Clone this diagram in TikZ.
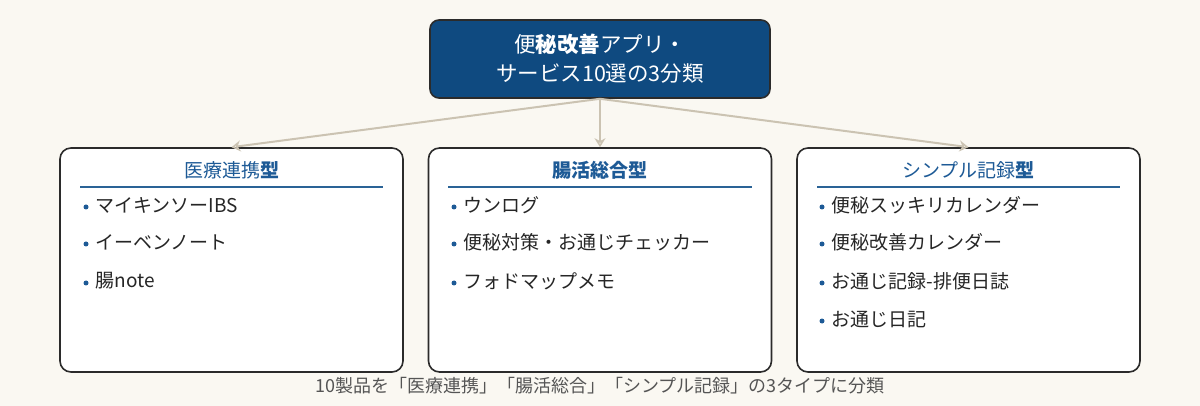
\documentclass[tikz,border=0pt]{standalone}
\usepackage{fontspec}
\setmainfont{Noto Sans CJK JP}
\usetikzlibrary{arrows.meta}
\definecolor{bgc}{HTML}{FAF8F2}
\definecolor{navy}{HTML}{0F4A80}
\definecolor{tblue}{HTML}{1D5A96}
\definecolor{linec}{HTML}{2A6396}
\definecolor{arr}{HTML}{CBC3B2}
\definecolor{edge}{HTML}{2B2B2B}
\definecolor{capc}{HTML}{555555}
\tikzset{
  x=1pt,y=-1pt,
  topbox/.style={draw=edge,line width=1.6pt,fill=navy,rounded corners=9pt,minimum width=340pt,minimum height=78pt,text=white,align=center,font=\fontsize{21.5}{29}\selectfont},
  catbox/.style={draw=edge,line width=1.6pt,fill=white,rounded corners=11pt,minimum width=343pt,minimum height=224pt},
  cattitle/.style={text=tblue,font=\fontsize{19}{22}\selectfont},
  item/.style={anchor=west,font=\fontsize{19}{22}\selectfont,text=black!85},
  conn/.style={draw=arr,line width=2pt,-{Stealth[length=9pt,width=11pt,open]}},
  bulletdot/.style={fill=tblue,circle,inner sep=0pt,minimum size=5pt}
}
\begin{document}
\begin{tikzpicture}
\fill[bgc] (0,0) rectangle (1200,406);
\useasboundingbox (0,0) rectangle (1200,406);
\node[topbox] (top) at (600,59) {便\textbf{秘改善}アプリ・\\サービス10選の3分類};
\node[catbox] (c1) at (231.5,260) {};
\node[catbox] (c2) at (600,260) {};
\node[catbox] (c3) at (968.5,260) {};
\draw[conn] (top.south) -- (c1.north);
\draw[conn] (top.south) -- (c2.north);
\draw[conn] (top.south) -- (c3.north);
% titles
\node[cattitle] (t1) at (231.5,170) {医療連携\textbf{型}};
\node[cattitle] (t2) at (600,170) {\textbf{腸活総合型}};
\node[cattitle] (t3) at (968.5,170) {シンプル記録\textbf{型}};
\draw[linec,line width=1.8pt] (80,187) -- (383,187);
\draw[linec,line width=1.8pt] (448,187) -- (752,187);
\draw[linec,line width=1.8pt] (817,187) -- (1120,187);
% items col 1
\node[bulletdot] (b11) at (86,207) {}; \node[item] (i11) at (92,205) {マイキンソーIBS};
\node[bulletdot] (b12) at (86,244) {}; \node[item] (i12) at (92,242) {イーベンノート};
\node[bulletdot] (b13) at (86,283) {}; \node[item] (i13) at (92,281) {腸note};
% col 2
\node[bulletdot] (b21) at (454,207) {}; \node[item] (i21) at (460,205) {ウンログ};
\node[bulletdot] (b22) at (454,244) {}; \node[item] (i22) at (460,242) {便秘対策・お通じチェッカー};
\node[bulletdot] (b23) at (454,283) {}; \node[item] (i23) at (460,281) {フォドマップメモ};
% col 3
\node[bulletdot] (b31) at (822,207) {}; \node[item] (i31) at (828,205) {便秘スッキリカレンダー};
\node[bulletdot] (b32) at (822,244) {}; \node[item] (i32) at (828,242) {便秘改善カレンダー};
\node[bulletdot] (b33) at (822,283) {}; \node[item] (i33) at (828,281) {お通じ記録-排便日誌};
\node[bulletdot] (b34) at (822,321) {}; \node[item] (i34) at (828,319) {お通じ日記};
\node[text=capc,font=\fontsize{18}{20}\selectfont] (cap) at (600,386) {10製品を「医療連携」「腸活総合」「シンプル記録」の3タイプに分類};
\end{tikzpicture}
\end{document}
